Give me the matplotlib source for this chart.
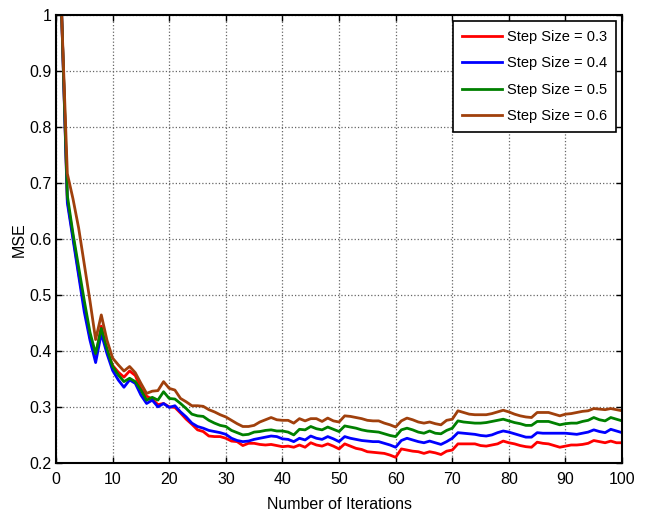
import numpy as np
import matplotlib
matplotlib.use("Agg")
import matplotlib.pyplot as plt
from matplotlib.ticker import FuncFormatter

plt.rcParams['font.family'] = ['Liberation Sans', 'DejaVu Sans']

iterations = list(range(1, 101))

mse_03 = [1.0, 0.67, 0.605, 0.54, 0.48, 0.425, 0.39, 0.445, 0.40, 0.375,
          0.363, 0.354, 0.365, 0.357, 0.334, 0.32, 0.315, 0.305, 0.307, 0.301,
          0.300, 0.29, 0.279, 0.27, 0.26, 0.257, 0.249, 0.248, 0.248, 0.245,
          0.240, 0.239, 0.232, 0.236, 0.236, 0.234, 0.233, 0.234, 0.232, 0.230,
          0.231, 0.229, 0.233, 0.229, 0.237, 0.233, 0.231, 0.235, 0.231, 0.226,
          0.235, 0.231, 0.227, 0.225, 0.221, 0.220, 0.219, 0.218, 0.215, 0.211,
          0.226, 0.224, 0.222, 0.221, 0.218, 0.221, 0.219, 0.216, 0.222, 0.224,
          0.235, 0.235, 0.235, 0.235, 0.232, 0.231, 0.233, 0.235, 0.240, 0.237,
          0.235, 0.232, 0.230, 0.229, 0.238, 0.236, 0.235, 0.232, 0.229, 0.231,
          0.233, 0.233, 0.234, 0.236, 0.241, 0.239, 0.237, 0.240, 0.237, 0.237]

mse_04 = [1.0, 0.665, 0.60, 0.535, 0.47, 0.42, 0.38, 0.432, 0.396, 0.366,
          0.349, 0.336, 0.349, 0.343, 0.322, 0.307, 0.313, 0.301, 0.307, 0.300,
          0.303, 0.292, 0.283, 0.272, 0.266, 0.263, 0.259, 0.257, 0.255, 0.252,
          0.245, 0.241, 0.239, 0.240, 0.243, 0.245, 0.247, 0.249, 0.248, 0.244,
          0.243, 0.239, 0.245, 0.242, 0.249, 0.245, 0.243, 0.248, 0.244, 0.239,
          0.248, 0.245, 0.243, 0.241, 0.240, 0.239, 0.239, 0.236, 0.233, 0.229,
          0.241, 0.245, 0.242, 0.239, 0.237, 0.240, 0.237, 0.234, 0.239, 0.245,
          0.255, 0.254, 0.253, 0.252, 0.250, 0.249, 0.251, 0.255, 0.258, 0.256,
          0.253, 0.250, 0.247, 0.247, 0.255, 0.254, 0.254, 0.254, 0.254, 0.254,
          0.253, 0.252, 0.254, 0.256, 0.260, 0.257, 0.255, 0.261, 0.258, 0.255]

mse_05 = [1.0, 0.678, 0.61, 0.55, 0.49, 0.434, 0.396, 0.441, 0.405, 0.373,
          0.358, 0.346, 0.352, 0.346, 0.331, 0.313, 0.318, 0.313, 0.328, 0.316,
          0.315, 0.307, 0.298, 0.288, 0.285, 0.284, 0.277, 0.272, 0.268, 0.266,
          0.259, 0.255, 0.251, 0.252, 0.256, 0.257, 0.259, 0.260, 0.258, 0.258,
          0.256, 0.251, 0.261, 0.260, 0.266, 0.262, 0.260, 0.265, 0.261, 0.257,
          0.267, 0.265, 0.263, 0.260, 0.258, 0.257, 0.256, 0.253, 0.250, 0.248,
          0.260, 0.263, 0.260, 0.256, 0.254, 0.258, 0.254, 0.253, 0.259, 0.263,
          0.276, 0.274, 0.273, 0.272, 0.272, 0.273, 0.275, 0.277, 0.279, 0.276,
          0.273, 0.271, 0.268, 0.268, 0.275, 0.275, 0.275, 0.272, 0.269, 0.271,
          0.272, 0.272, 0.275, 0.277, 0.282, 0.278, 0.276, 0.282, 0.279, 0.276]

mse_06 = [1.0, 0.717, 0.672, 0.62, 0.555, 0.49, 0.421, 0.465, 0.42, 0.388,
          0.376, 0.365, 0.373, 0.362, 0.343, 0.325, 0.329, 0.330, 0.346, 0.334,
          0.331, 0.316, 0.310, 0.303, 0.303, 0.302, 0.296, 0.292, 0.287, 0.283,
          0.277, 0.271, 0.266, 0.266, 0.268, 0.274, 0.278, 0.282, 0.278, 0.277,
          0.277, 0.272, 0.280, 0.276, 0.280, 0.280, 0.275, 0.281, 0.276, 0.274,
          0.285, 0.284, 0.282, 0.280, 0.277, 0.276, 0.276, 0.272, 0.269, 0.265,
          0.276, 0.281, 0.278, 0.274, 0.272, 0.274, 0.271, 0.269, 0.277, 0.279,
          0.294, 0.291, 0.288, 0.287, 0.287, 0.287, 0.289, 0.292, 0.295, 0.292,
          0.288, 0.285, 0.283, 0.282, 0.291, 0.291, 0.291, 0.288, 0.285, 0.288,
          0.289, 0.291, 0.293, 0.294, 0.298, 0.297, 0.296, 0.298, 0.296, 0.294]

series_labels = ['Step Size = 0.3', 'Step Size = 0.4', 'Step Size = 0.5', 'Step Size = 0.6']
series_colors = ['#ff0000', '#0000ff', '#008000', '#a0400c']

x_ticks = list(range(0, 101, 10))
y_ticks = [0.2, 0.3, 0.4, 0.5, 0.6, 0.7, 0.8, 0.9, 1.0]

fig = plt.figure(figsize=(6.46, 5.13), dpi=100)
ax = fig.add_axes([0.0867, 0.0965, 0.8763, 0.8743])

for values, label, color in zip([mse_03, mse_04, mse_05, mse_06], series_labels, series_colors):
    ax.plot(iterations, values, color=color, linewidth=2.0, label=label)

ax.set_xlim(0, 100)
ax.set_ylim(0.2, 1.0)
ax.set_xticks(x_ticks)
ax.set_yticks(y_ticks)
ax.yaxis.set_major_formatter(FuncFormatter(lambda v, p: f"{v:g}"))

ax.grid(True, linestyle=':', color='#666666', linewidth=0.9)
ax.tick_params(direction='in', top=True, right=True, length=4, width=1.0,
               labelsize=11.5, colors='black')
ax.tick_params(axis='x', pad=6)
ax.tick_params(axis='y', pad=3)
for s in ax.spines.values():
    s.set_linewidth(1.5)

ax.set_xlabel('Number of Iterations', fontsize=11.5, labelpad=7)
ax.set_ylabel('MSE', fontsize=11.5, labelpad=2)

leg = ax.legend(loc='upper right', fontsize=10.5, frameon=True, fancybox=False,
                edgecolor='black', framealpha=1, handlelength=2.75,
                borderaxespad=0.42, labelspacing=0.86, handletextpad=0.35,
                borderpad=0.6)
leg.get_frame().set_linewidth(1.2)

fig.savefig('out.png', dpi=100)
